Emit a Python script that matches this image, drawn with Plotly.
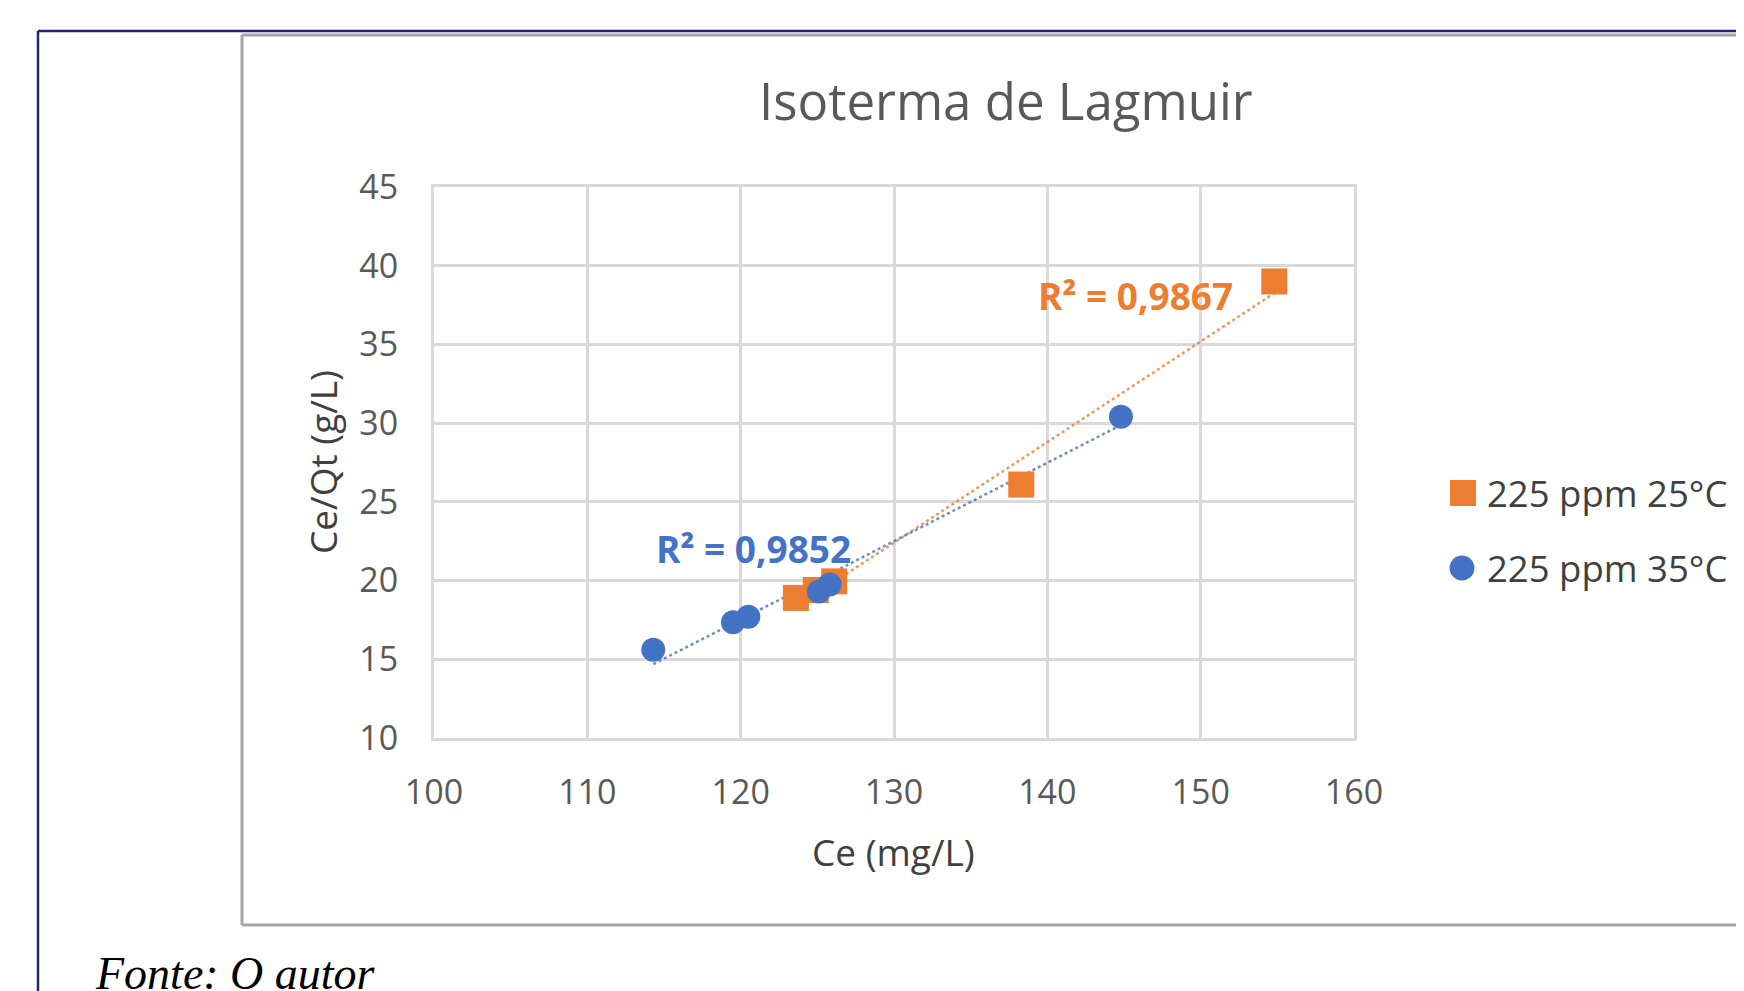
import numpy as np
import plotly.graph_objects as go

# ---- data ----
x_25 = [123.6, 124.9, 126.1, 138.3, 154.8]
y_25 = [18.9, 19.4, 19.95, 26.1, 39.0]
x_35 = [114.3, 119.5, 120.5, 125.1, 125.8, 144.8]
y_35 = [15.6, 17.35, 17.7, 19.3, 19.75, 30.4]
name_25 = "225 ppm 25°C"
name_35 = "225 ppm 35°C"
r2_25 = "R² = 0,9867"
r2_35 = "R² = 0,9852"
x_ticks = [100, 110, 120, 130, 140, 150, 160]
y_ticks = [10, 15, 20, 25, 30, 35, 40, 45]
title = "Isoterma de Lagmuir"
x_title = "Ce (mg/L)"
y_title = "Ce/Qt (g/L)"
source = "Fonte: O autor"

ORANGE = "#ED7D31"
BLUE = "#4472C4"

OFF = 8  # default page body margin
W, H = 1744 - OFF, 991 - OFF
# plot area in screen pixels
SPL, SPR, SPT, SPB = 434, 1354, 187, 738
PL, PR, PT, PB = SPL - OFF, SPR - OFF, SPT - OFF, SPB - OFF


def px(x):
    return (x - SPL) / (SPR - SPL)


def py(y):
    return (SPB - y) / (SPB - SPT)


def trend(xs, ys):
    k, b = np.polyfit(xs, ys, 1)
    xx = np.array([min(xs), max(xs)])
    return xx, k * xx + b


fig = go.Figure()

tx, ty = trend(x_25, y_25)
fig.add_trace(go.Scatter(x=tx, y=ty, mode="lines", showlegend=False,
                         line=dict(color=ORANGE, width=2.5, dash="dot"), opacity=0.8))
tx, ty = trend(x_35, y_35)
fig.add_trace(go.Scatter(x=tx, y=ty, mode="lines", showlegend=False,
                         line=dict(color=BLUE, width=2.5, dash="dot"), opacity=0.8))

fig.add_trace(go.Scatter(x=x_25, y=y_25, mode="markers", name=name_25, showlegend=False,
                         marker=dict(symbol="square", size=26, color=ORANGE)))
fig.add_trace(go.Scatter(x=x_35, y=y_35, mode="markers", name=name_35, showlegend=False,
                         marker=dict(symbol="circle", size=24, color=BLUE)))

GRID = "#D9D9D9"
fig.update_xaxes(range=[100, 160], tickvals=x_ticks, showgrid=True, gridcolor=GRID, gridwidth=3,
                 showline=True, linecolor=GRID, linewidth=3, mirror=True, zeroline=False,
                 ticks="outside", ticklen=22, tickcolor="rgba(0,0,0,0)",
                 tickfont=dict(family="Open Sans", size=34, color="#595959"))
fig.update_yaxes(range=[10, 45], tickvals=y_ticks, showgrid=True, gridcolor=GRID, gridwidth=3,
                 showline=True, linecolor=GRID, linewidth=3, mirror=True, zeroline=False,
                 ticks="outside", ticklen=26, tickcolor="rgba(0,0,0,0)",
                 tickfont=dict(family="Open Sans", size=34, color="#595959"))

shapes = []
NAVY = "#24246C"
shapes.append(dict(type="line", xref="paper", yref="paper", x0=px(38), x1=px(38), y0=py(31), y1=py(1100),
                   line=dict(color=NAVY, width=2.5)))
shapes.append(dict(type="line", xref="paper", yref="paper", x0=px(38), x1=px(1900), y0=py(31), y1=py(31),
                   line=dict(color=NAVY, width=2.5)))
GREY = "#A6A6A6"
shapes.append(dict(type="line", xref="paper", yref="paper", x0=px(242), x1=px(242), y0=py(35), y1=py(925),
                   line=dict(color=GREY, width=3)))
shapes.append(dict(type="line", xref="paper", yref="paper", x0=px(242), x1=px(1900), y0=py(35), y1=py(35),
                   line=dict(color=GREY, width=3)))
shapes.append(dict(type="line", xref="paper", yref="paper", x0=px(242), x1=px(1900), y0=py(925), y1=py(925),
                   line=dict(color=GREY, width=3)))
# legend symbols
shapes.append(dict(type="rect", xref="paper", yref="paper", x0=px(1463 - 13), x1=px(1463 + 13),
                   y0=py(493 + 13), y1=py(493 - 13), fillcolor=ORANGE, line=dict(width=0)))
shapes.append(dict(type="circle", xref="paper", yref="paper", x0=px(1462 - 12.5), x1=px(1462 + 12.5),
                   y0=py(568 + 12.5), y1=py(568 - 12.5), fillcolor=BLUE, line=dict(width=0)))

ann = []
def A(text, x, y, size, color, xanchor="center", yanchor="middle", bold=False, family="Open Sans",
      textangle=0, italic=False):
    t = f"<b>{text}</b>" if bold else text
    if italic:
        t = f"<i>{t}</i>"
    ann.append(dict(text=t, xref="paper", yref="paper", x=px(x), y=py(y), xanchor=xanchor,
                    yanchor=yanchor, showarrow=False, textangle=textangle,
                    font=dict(family=family, size=size, color=color)))

A(title, 1006, 100, 51, "#595959")
A(x_title, 893, 851, 37, "#404040")
A(y_title, 322, 462, 37, "#404040", textangle=-90)
A(r2_25, 1135, 295, 37, ORANGE, bold=True)
A(r2_35, 753, 548, 37, BLUE, bold=True)
A(name_25, 1485, 493, 36.5, "#404040", xanchor="left")
A(name_35, 1485, 568, 36.5, "#404040", xanchor="left")
A(source, 93, 973, 46, "#000000", xanchor="left", family="Liberation Serif", italic=True)

fig.update_layout(width=W, height=H, autosize=False,
                  margin=dict(l=PL, r=W - PR, t=PT, b=H - PB, pad=0),
                  plot_bgcolor="white", paper_bgcolor="white",
                  shapes=shapes, annotations=ann, showlegend=False)

fig.write_html("out.html")
